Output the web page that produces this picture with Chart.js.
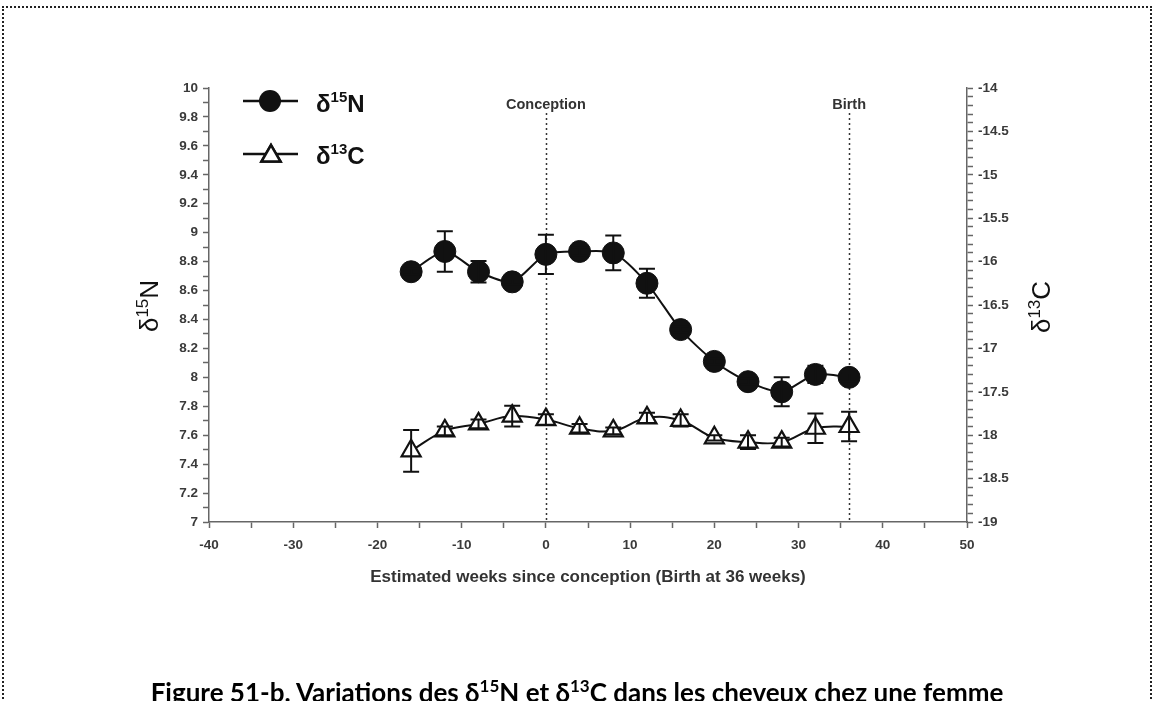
<!DOCTYPE html>
<html>
<head>
<meta charset="utf-8">
<script src="https://cdn.jsdelivr.net/npm/chart.js@4.4.1/dist/chart.umd.min.js"></script>
<style>
    html, body { margin: 0; padding: 0; background: #fff; }
    body { width: 1154px; height: 701px; overflow: hidden; position: relative; }
    #frame { position: absolute; left: 2px; top: 6px; width: 1146px; height: 760px; border: 2px dotted #222; }
    #wrap { position: absolute; left: 0; top: 0; width: 1154px; height: 701px; }
    #caption { position: absolute; left: 0; top: 676px; width: 1154px; text-align: center; white-space: nowrap;
               font: bold 26px Lato, "Liberation Sans", sans-serif; color: #000; }
    #caption sup { font-size: 17px; vertical-align: 10px; line-height: 0; }
</style>
</head>
<body>
<div id="frame"></div>
<div id="wrap"><canvas id="isotopeChart" width="1154" height="701"></canvas></div>
<div id="caption">Figure 51-b. Variations des δ<sup>15</sup>N et δ<sup>13</sup>C dans les cheveux chez une femme</div>

<script>
// weeks since conception (sampling points)
var weeks = [-16, -12, -8, -4, 0, 4, 8, 12, 16, 20, 24, 28, 32, 36];

// delta 15N (left axis) and its error bars
var d15N    = [8.73, 8.87, 8.73, 8.66, 8.85, 8.87, 8.86, 8.65, 8.33, 8.11, 7.97, 7.90, 8.02, 8.00];
var d15NErr = [0.02, 0.14, 0.075, 0.02, 0.135, 0.03, 0.12, 0.10, 0.02, 0.02, 0.02, 0.10, 0.06, 0.03];

// delta 13C (right axis) and its error bars
var d13C    = [-18.18, -17.95, -17.87, -17.78, -17.82, -17.92, -17.95, -17.80, -17.83, -18.03, -18.08, -18.08, -17.92, -17.90];
var d13CErr = [0.24, 0.05, 0.05, 0.12, 0.06, 0.05, 0.04, 0.06, 0.07, 0.03, 0.08, 0.05, 0.17, 0.17];

// vertical markers
var markerWeeks  = [0, 36];
var markerLabels = ['Conception', 'Birth'];

var FONT = '"Liberation Sans", Arial, sans-serif';

// draw text made of pieces (for superscripts)
function drawRich(ctx, parts, x, y, align) {
    var w = 0;
    parts.forEach(function (p) {
        ctx.font = p[2] + ' ' + p[1] + 'px ' + FONT;
        w += ctx.measureText(p[0]).width;
    });
    var cx = align === 'center' ? x - w / 2 : x;
    parts.forEach(function (p) {
        ctx.font = p[2] + ' ' + p[1] + 'px ' + FONT;
        ctx.fillText(p[0], cx, y + p[3]);
        cx += ctx.measureText(p[0]).width;
    });
}

function drawErrorBars(chart, dsIndex, values, errors) {
    var ctx = chart.ctx;
    var meta = chart.getDatasetMeta(dsIndex);
    var yScale = chart.scales[meta.yAxisID];
    ctx.save();
    ctx.strokeStyle = '#111';
    ctx.lineWidth = 2;
    meta.data.forEach(function (pt, i) {
        var x = pt.x;
        var yTop = yScale.getPixelForValue(values[i] + errors[i]);
        var yBot = yScale.getPixelForValue(values[i] - errors[i]);
        ctx.beginPath();
        ctx.moveTo(x, yTop); ctx.lineTo(x, yBot);
        ctx.moveTo(x - 8, yTop); ctx.lineTo(x + 8, yTop);
        ctx.moveTo(x - 8, yBot); ctx.lineTo(x + 8, yBot);
        ctx.stroke();
    });
    ctx.restore();
}

var extrasPlugin = {
    id: 'isoExtras',
    beforeDatasetsDraw: function (chart) {
        var ctx = chart.ctx;
        var xs = chart.scales.x;
        ctx.save();
        ctx.strokeStyle = '#333';
        ctx.lineWidth = 1.5;
        ctx.setLineDash([2, 3]);
        markerWeeks.forEach(function (w) {
            var px = Math.round(xs.getPixelForValue(w)) + 0.5;
            ctx.beginPath();
            ctx.moveTo(px, 113);
            ctx.lineTo(px, chart.chartArea.bottom);
            ctx.stroke();
        });
        ctx.restore();
    },
    afterDatasetsDraw: function (chart) {
        drawErrorBars(chart, 0, d15N, d15NErr);
        drawErrorBars(chart, 1, d13C, d13CErr);
    },
    afterDraw: function (chart) {
        var ctx = chart.ctx;
        var xs = chart.scales.x;
        ctx.save();

        // Conception / Birth labels
        ctx.fillStyle = '#333';
        ctx.textAlign = 'center';
        ctx.textBaseline = 'alphabetic';
        ctx.font = 'bold 14.5px ' + FONT;
        markerWeeks.forEach(function (w, i) {
            ctx.fillText(markerLabels[i], xs.getPixelForValue(w), 109);
        });
        ctx.textAlign = 'left';

        // legend
        ctx.strokeStyle = '#111';
        ctx.fillStyle = '#111';
        ctx.lineWidth = 2.5;
        ctx.beginPath();
        ctx.moveTo(243, 101); ctx.lineTo(298, 101);
        ctx.moveTo(243, 154); ctx.lineTo(298, 154);
        ctx.stroke();
        ctx.beginPath();
        ctx.arc(270, 101, 11, 0, Math.PI * 2);
        ctx.fill();
        ctx.fillStyle = '#fff';
        ctx.lineWidth = 2.5;
        Chart.helpers.drawPoint(ctx, { pointStyle: 'triangle', radius: 11, rotation: 0, borderWidth: 2.5 }, 271, 156);
        ctx.fill();
        ctx.stroke();

        ctx.fillStyle = '#111';
        drawRich(ctx, [['δ', 24, 'bold', 0], ['15', 15, 'bold', -10], ['N', 24, 'bold', 0]], 316, 112, 'left');
        drawRich(ctx, [['δ', 24, 'bold', 0], ['13', 15, 'bold', -10], ['C', 24, 'bold', 0]], 316, 164, 'left');

        // rotated axis titles
        ctx.save();
        ctx.translate(148, 306);
        ctx.rotate(-Math.PI / 2);
        drawRich(ctx, [['δ', 26, 'normal', 0], ['15', 17, 'normal', -10], ['N', 26, 'normal', 0]], 0, 9.5, 'center');
        ctx.restore();

        ctx.save();
        ctx.translate(1040, 307);
        ctx.rotate(-Math.PI / 2);
        drawRich(ctx, [['δ', 26, 'normal', 0], ['13', 17, 'normal', -10], ['C', 26, 'normal', 0]], 0, 9.5, 'center');
        ctx.restore();

        ctx.restore();
    }
};

var tickFont = { family: FONT, size: 13.5, weight: 'bold' };

var ctx = document.getElementById('isotopeChart').getContext('2d');
new Chart(ctx, {
    type: 'line',
    data: {
        datasets: [{
            label: 'δ15N',
            data: weeks.map(function (w, i) { return { x: w, y: d15N[i] }; }),
            yAxisID: 'yN',
            borderColor: '#111',
            borderWidth: 2,
            backgroundColor: '#111',
            pointStyle: 'circle',
            pointRadius: 11,
            pointBackgroundColor: '#111',
            pointBorderColor: '#111',
            pointBorderWidth: 1,
            tension: 0.25
        }, {
            label: 'δ13C',
            data: weeks.map(function (w, i) { return { x: w, y: d13C[i] }; }),
            yAxisID: 'yC',
            borderColor: '#111',
            borderWidth: 2,
            backgroundColor: '#fff',
            pointStyle: 'triangle',
            pointRadius: 11,
            pointBackgroundColor: '#fff',
            pointBorderColor: '#111',
            pointBorderWidth: 2.2,
            tension: 0.4
        }]
    },
    options: {
        responsive: false,
        animation: false,
        devicePixelRatio: 1,
        layout: { padding: { left: 120, right: 0, top: 88, bottom: 100 } },
        plugins: {
            legend: { display: false },
            tooltip: { enabled: false }
        },
        scales: {
            x: {
                type: 'linear',
                position: 'bottom',
                min: -40,
                max: 50,
                ticks: {
                    stepSize: 5,
                    autoSkip: false,
                    maxRotation: 0,
                    padding: 9,
                    color: '#3a3a3a',
                    font: tickFont,
                    callback: function (v) { return v % 10 === 0 ? v : ''; }
                },
                grid: { drawOnChartArea: false, tickLength: 6, tickColor: '#666', tickWidth: 1.5 },
                border: { color: '#666', width: 1.5 },
                title: {
                    display: true,
                    text: 'Estimated weeks since conception (Birth at 36 weeks)',
                    color: '#333',
                    font: { family: FONT, size: 17, weight: 'bold' },
                    padding: { top: 0, bottom: 13 }
                },
                afterFit: function (s) { s.height = 79; }
            },
            yN: {
                type: 'linear',
                position: 'left',
                min: 7,
                max: 10,
                ticks: {
                    stepSize: 0.1,
                    autoSkip: false,
                    padding: 5,
                    color: '#3a3a3a',
                    font: tickFont,
                    callback: function (v) {
                        return Math.round(v * 10) % 2 === 0 ? String(+v.toFixed(1)) : '';
                    }
                },
                grid: { drawOnChartArea: false, tickLength: 6, tickColor: '#666', tickWidth: 1.5 },
                border: { color: '#666', width: 1.5 },
                afterFit: function (s) { s.width = 89; }
            },
            yC: {
                type: 'linear',
                position: 'right',
                min: -19,
                max: -14,
                ticks: {
                    stepSize: 0.1,
                    autoSkip: false,
                    padding: 5,
                    color: '#3a3a3a',
                    font: tickFont,
                    callback: function (v) {
                        return Math.round(v * 10) % 5 === 0 ? String(+v.toFixed(1)) : '';
                    }
                },
                grid: { drawOnChartArea: false, tickLength: 6, tickColor: '#666', tickWidth: 1.5 },
                border: { color: '#666', width: 1.5 },
                afterFit: function (s) { s.width = 187; }
            }
        }
    },
    plugins: [extrasPlugin]
});
</script>
</body>
</html>
